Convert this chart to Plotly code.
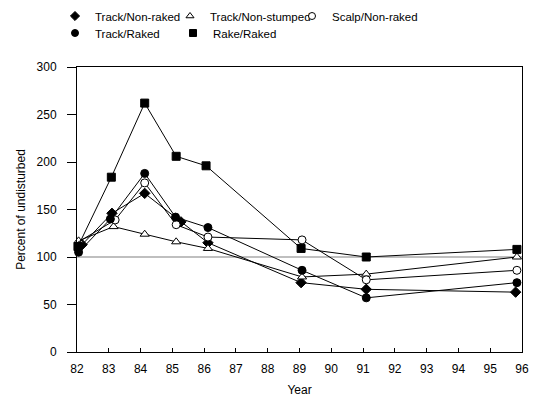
import plotly.graph_objects as go

# ---- data ----
series_names = ["Track/Non-raked", "Track/Non-stumped", "Scalp/Non-raked", "Track/Raked", "Rake/Raked"]

years_track_nonraked = [82.16, 83.10, 84.13, 85.27, 86.12, 89.05, 91.10, 95.80]
vals_track_nonraked = [113, 146, 167, 137, 115, 73, 66, 63]

years_track_nonstumped = [82.05, 83.15, 84.13, 85.12, 86.12, 89.08, 91.10, 95.84]
vals_track_nonstumped = [117, 132, 124, 116, 109, 79, 82, 100]

years_scalp_nonraked = [81.90, 83.20, 84.13, 85.12, 86.12, 89.08, 91.10, 95.84]
vals_scalp_nonraked = [113, 139, 178, 134, 121, 118, 76, 86]

years_track_raked = [82.05, 83.05, 84.13, 85.10, 86.12, 89.08, 91.10, 95.84]
vals_track_raked = [105, 140, 188, 142, 131, 86, 57, 73]

years_rake_raked = [82.03, 83.08, 84.13, 85.12, 86.06, 89.05, 91.10, 95.84]
vals_rake_raked = [111, 184, 262, 206, 196, 109, 100, 108]

x_tick_vals = list(range(82, 97))
x_tick_text = [str(v) for v in x_tick_vals]
y_tick_vals = [0, 50, 100, 150, 200, 250, 300]
REFERENCE_LEVEL = 100

# ---- styling ----
FONT = "Liberation Sans, Arial, sans-serif"
styles = [
    dict(symbol="diamond", color="black", line=dict(color="black", width=1)),
    dict(symbol="triangle-up", color="white", line=dict(color="black", width=1)),
    dict(symbol="circle", color="white", line=dict(color="black", width=1)),
    dict(symbol="circle", color="black", line=dict(color="black", width=1)),
    dict(symbol="square", color="black", line=dict(color="black", width=1)),
]
# legend text start (pixels in the page) for each entry
legend_ids = ["legend", "legend2", "legend3", "legend4", "legend5"]
legend_px = [(93, 16), (208, 16), (330, 16), (93, 33), (211, 33)]

all_years = [years_track_nonraked, years_track_nonstumped, years_scalp_nonraked,
             years_track_raked, years_rake_raked]
all_vals = [vals_track_nonraked, vals_track_nonstumped, vals_scalp_nonraked,
            vals_track_raked, vals_rake_raked]

W, H = 536, 402
ML, MR, MT, MB = 77, 14, 67, 50
PW, PH = W - ML - MR, H - MT - MB

fig = go.Figure()

for name, xs, ys, st in zip(series_names, all_years, all_vals, styles):
    fig.add_trace(go.Scatter(
        x=xs, y=ys, mode="lines+markers", name=name, showlegend=False,
        line=dict(color="black", width=1),
        marker=dict(size=8, **st), cliponaxis=False,
    ))

# legend entries (markers only)
for name, st, lg in zip(series_names, styles, legend_ids):
    fig.add_trace(go.Scatter(
        x=[None], y=[None], mode="markers", name=name, showlegend=True,
        marker=dict(size=7, **st), legend=lg,
    ))

fig.add_shape(type="line", xref="paper", yref="y", x0=0, x1=1,
              y0=REFERENCE_LEVEL, y1=REFERENCE_LEVEL,
              line=dict(color="#808080", width=1.2), layer="below")

legend_layouts = {}
for lg, (px, py) in zip(legend_ids, legend_px):
    legend_layouts[lg] = dict(
        orientation="h", xanchor="left", yanchor="middle",
        x=(px - 38 - ML) / PW, y=(H - MB - py) / PH,
        font=dict(size=11.5), itemwidth=30, bgcolor="rgba(0,0,0,0)",
    )

fig.update_layout(
    width=W, height=H,
    margin=dict(l=ML, r=MR, t=MT, b=MB, autoexpand=False),
    paper_bgcolor="white", plot_bgcolor="white",
    font=dict(family=FONT, size=12, color="black"),
    xaxis=dict(
        range=[82, 96], tickvals=x_tick_vals, ticktext=x_tick_text,
        ticks="inside", ticklen=4, tickcolor="black",
        showline=True, linecolor="black", linewidth=1, mirror=True,
        showgrid=False, zeroline=False, ticklabelstandoff=6,
        title=dict(text="Year", font=dict(size=12), standoff=10),
        tickfont=dict(size=12),
    ),
    yaxis=dict(
        range=[0, 300], tickvals=y_tick_vals,
        ticks="outside", ticklen=9, tickcolor="black",
        showline=True, linecolor="black", linewidth=1, mirror=True,
        showgrid=False, zeroline=False, ticklabelstandoff=8,
        title=dict(text="Percent of undisturbed", font=dict(size=12), standoff=8),
        tickfont=dict(size=12),
    ),
    **legend_layouts,
)

fig.write_html("out.html")
